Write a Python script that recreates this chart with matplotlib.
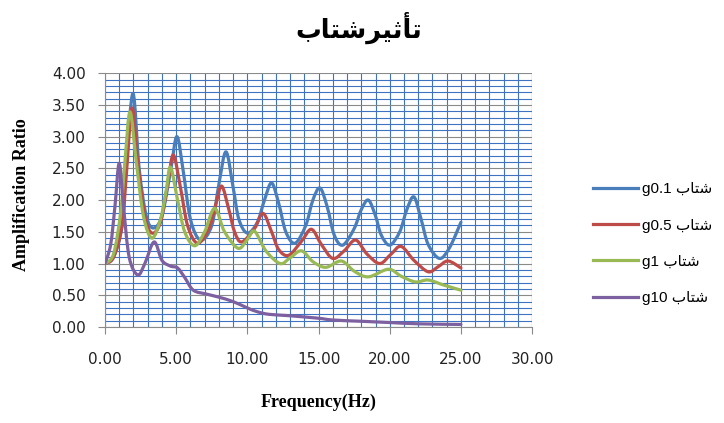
import numpy as np
import matplotlib.pyplot as plt
from matplotlib.path import Path
from matplotlib.patches import PathPatch
from matplotlib.lines import Line2D
from matplotlib.ticker import MultipleLocator, FormatStrFormatter

# values (frequency in Hz, amplification ratio)
freq_01 = [0, 0.6, 1.2, 1.5, 1.97, 2.4, 2.9, 3.4, 4.0, 4.6, 5.05, 5.5, 6.0, 6.7, 7.5, 8.0, 8.5, 9.0, 9.4,
           10.0, 10.7, 11.2, 11.7, 12.2, 12.7, 13.35, 14.1, 14.6, 15.1, 15.6, 16.1, 16.7, 17.5, 18.0,
           18.5, 19.0, 19.4, 20.0, 20.7, 21.2, 21.7, 22.2, 22.7, 23.5, 24.2, 25.0]
amp_01 = [1.0, 1.1, 1.6, 2.6, 3.68, 2.5, 1.75, 1.56, 1.75, 2.45, 3.0, 2.45, 1.7, 1.37, 1.6, 2.25, 2.76, 2.2, 1.7,
          1.48, 1.65, 2.0, 2.27, 1.95, 1.5, 1.32, 1.6, 2.0, 2.19, 1.9, 1.45, 1.29, 1.55, 1.85,
          2.0, 1.75, 1.45, 1.29, 1.5, 1.85, 2.05, 1.7, 1.3, 1.08, 1.25, 1.65]

freq_05 = [0, 0.6, 1.2, 1.5, 1.9, 2.3, 2.8, 3.3, 3.9, 4.4, 4.8, 5.3, 5.8, 6.5, 7.3, 7.8, 8.2, 8.7, 9.1, 9.6,
           10.5, 11.1, 11.7, 12.2, 12.9, 13.8, 14.5, 15.2, 16.0, 16.8, 17.6, 18.4, 19.3, 20.1, 20.8,
           21.7, 22.7, 23.4, 24.1, 25.0]
amp_05 = [1.0, 1.1, 1.6, 2.4, 3.45, 2.6, 1.75, 1.48, 1.65, 2.25, 2.71, 2.2, 1.6, 1.32, 1.55, 1.95, 2.22, 1.85, 1.5, 1.34,
          1.55, 1.79, 1.5, 1.22, 1.13, 1.35, 1.54, 1.3, 1.08, 1.2, 1.37, 1.15, 1.0, 1.15, 1.27,
          1.05, 0.87, 0.95, 1.04, 0.93]

freq_1 = [0, 0.6, 1.1, 1.4, 1.76, 2.2, 2.7, 3.3, 3.9, 4.3, 4.6, 5.1, 5.6, 6.3, 7.0, 7.7, 8.4, 9.35, 10.0, 10.5,
          11.3, 12.3, 13.0, 13.8, 14.6, 15.5, 16.6, 17.5, 18.5, 19.9, 20.8, 21.8, 22.7, 23.8, 25.0]
amp_1 = [1.0, 1.15, 1.8, 2.6, 3.39, 2.6, 1.75, 1.4, 1.7, 2.15, 2.52, 2.0, 1.5, 1.28, 1.5, 1.87, 1.5, 1.24, 1.38, 1.51,
         1.2, 1.0, 1.09, 1.2, 1.03, 0.94, 1.04, 0.88, 0.79, 0.91, 0.8, 0.71, 0.74, 0.66, 0.58]

freq_10 = [0, 0.4, 0.7, 1.0, 1.3, 1.7, 2.3, 2.8, 3.45, 4.0, 4.6, 5.1, 5.6, 6.2, 7.1, 8.0, 9.0, 10.0, 10.7,
           11.5, 12.8, 14.9, 16.0, 18.0, 20.0, 22.0, 25.0]
amp_10 = [1.0, 1.3, 1.9, 2.58, 1.9, 1.1, 0.82, 1.0, 1.34, 1.05, 0.96, 0.93, 0.78, 0.58, 0.52, 0.47, 0.4, 0.3, 0.24,
          0.2, 0.18, 0.14, 0.11, 0.09, 0.07, 0.05, 0.04]

series_freq = [freq_01, freq_05, freq_1, freq_10]
series_amp = [amp_01, amp_05, amp_1, amp_10]
colors = ['#4a7ebb', '#be4b48', '#98b954', '#7d60a0']

# Arabic text written in presentation forms, visual order (matplotlib has no shaping)
shetab = '\uFE8F\uFE8E\uFE98\uFEB7'
labels = ['g0.1 ' + shetab, 'g0.5 ' + shetab, 'g1 ' + shetab, 'g10 ' + shetab]
title = '\uFE8F\uFE8E\uFE98\uFEB7\uFEAE\uFEF4\uFE9B\uFE84\uFE97'


def smooth_path(xs, ys):
    # Catmull-Rom style bezier through the points, like Excel's smoothed line
    pts = np.column_stack([xs, ys]).astype(float)
    n = len(pts)
    verts = [pts[0]]
    codes = [Path.MOVETO]
    for i in range(n - 1):
        p0 = pts[max(i - 1, 0)]
        p1 = pts[i]
        p2 = pts[i + 1]
        p3 = pts[min(i + 2, n - 1)]
        verts += [p1 + (p2 - p0) / 6, p2 - (p3 - p1) / 6, p2]
        codes += [Path.CURVE4] * 3
    return Path(verts, codes)


fig = plt.figure(figsize=(7.24, 4.23), dpi=100)
ax = fig.add_axes([0.145, 0.227, 0.59, 0.6])

ax.set_xlim(0, 30)
ax.set_ylim(0, 4)
ax.xaxis.set_major_locator(MultipleLocator(5))
ax.xaxis.set_minor_locator(MultipleLocator(1))
ax.yaxis.set_major_locator(MultipleLocator(0.5))
ax.yaxis.set_minor_locator(MultipleLocator(0.1))
ax.xaxis.set_major_formatter(FormatStrFormatter('%.2f'))
ax.yaxis.set_major_formatter(FormatStrFormatter('%.2f'))

ax.grid(which='minor', axis='both', color='#3f72c0', lw=0.8)
ax.grid(which='major', axis='y', color='#8a8a8a', lw=0.8)
ax.grid(which='major', axis='x', color='#3f72c0', lw=0.8)
ax.set_axisbelow(True)

for s in ['top', 'right']:
    ax.spines[s].set_visible(False)
for s in ['left', 'bottom']:
    ax.spines[s].set_color('#8a8a8a')
ax.axvline(30, color='#8a8a8a', lw=0.8, zorder=0.5)

ax.tick_params(which='major', direction='out', length=5, color='#8a8a8a', labelsize=11,
               labelcolor='#222222')
ax.tick_params(which='minor', length=0)
ax.tick_params(axis='x', pad=13)
ax.tick_params(axis='y', pad=9)

for xs, ys, c in zip(series_freq, series_amp, colors):
    ax.add_patch(PathPatch(smooth_path(xs, ys), fill=False, edgecolor=c, lw=2.3,
                           capstyle='round', joinstyle='round', zorder=3))

handles = [Line2D([], [], color=c, lw=2.3) for c in colors]
fig.legend(handles, labels, loc='center left', bbox_to_anchor=(0.808, 0.424),
           bbox_transform=fig.transFigure, frameon=False, borderpad=0, handlelength=3.0,
           handletextpad=0.2, labelspacing=1.45,
           prop={'family': ['Liberation Sans', 'DejaVu Sans'], 'size': 11})

fig.text(0.496, 0.934, title, ha='center', va='center', fontsize=18.5, fontweight='bold',
         family='DejaVu Sans')
fig.text(0.03, 0.539, 'Amplification Ratio', rotation=90, ha='center', va='center',
         fontsize=13, fontweight='bold', family='Liberation Serif')
fig.text(0.44, 0.05, 'Frequency(Hz)', ha='center', va='center',
         fontsize=13, fontweight='bold', family='Liberation Serif')

fig.savefig('out.png', dpi=100)
